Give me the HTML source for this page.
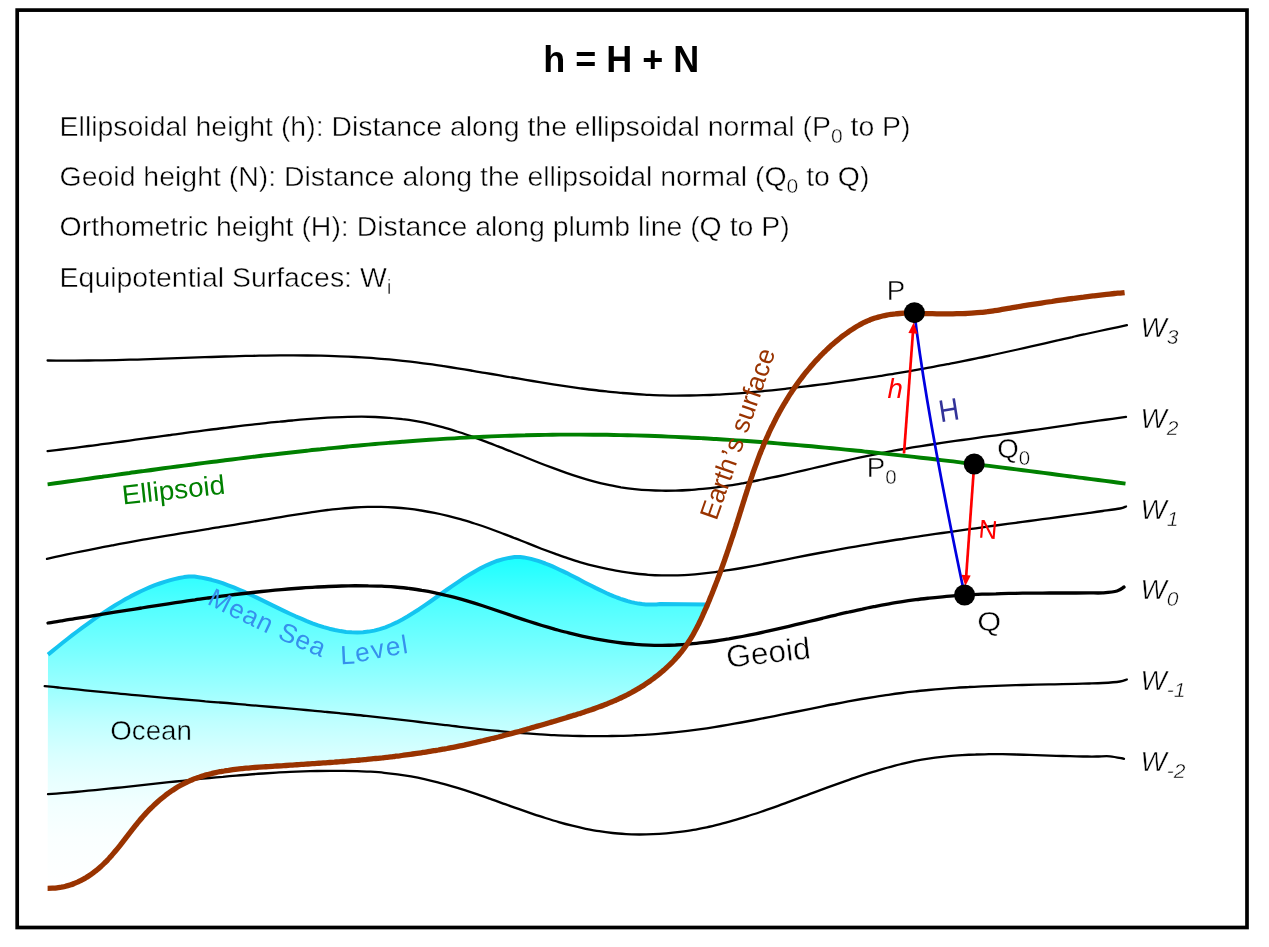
<!DOCTYPE html>
<html><head><meta charset="utf-8"><title>h = H + N</title>
<style>
html,body{margin:0;padding:0;background:#fff;}
svg{display:block;}
text{font-family:"Liberation Sans",Arial,sans-serif;}
.t{stroke:#fff;stroke-width:0.45px;}
</style></head><body>
<svg width="1269" height="947" viewBox="0 0 1269 947">
<defs>
<linearGradient id="wg" x1="0" y1="556" x2="0" y2="888" gradientUnits="userSpaceOnUse">
<stop offset="0" stop-color="#1affff"/><stop offset="0.15" stop-color="#52ffff"/><stop offset="0.283" stop-color="#78ffff"/><stop offset="0.39" stop-color="#99ffff"/><stop offset="0.5" stop-color="#bfffff"/><stop offset="0.6" stop-color="#d9ffff"/><stop offset="0.666" stop-color="#e6ffff"/><stop offset="0.75" stop-color="#f2ffff"/><stop offset="0.85" stop-color="#faffff"/><stop offset="1" stop-color="#ffffff"/>
</linearGradient>
</defs>
<rect x="0" y="0" width="1269" height="947" fill="#fff"/>
<rect x="17.2" y="10.1" width="1229.8" height="917.4" fill="none" stroke="#000" stroke-width="3.7"/>

<path d="M48.0,654.6 L52.9,650.6 L57.7,646.7 L62.6,642.8 L67.4,639.0 L72.3,635.2 L77.2,631.5 L82.0,627.9 L86.9,624.3 L91.7,620.8 L96.6,617.4 L101.4,614.1 L106.3,610.9 L111.2,607.8 L116.0,604.8 L120.9,601.9 L125.7,599.1 L130.6,596.4 L135.5,593.9 L140.3,591.5 L145.2,589.3 L150.0,587.2 L154.9,585.2 L159.7,583.5 L164.6,581.8 L169.5,580.4 L174.3,579.1 L179.2,578.0 L184.0,577.1 L188.9,576.4 L194.5,576.6 L200.1,577.4 L205.7,578.5 L211.4,579.8 L217.0,581.4 L222.6,583.2 L228.2,585.3 L233.8,587.4 L239.4,589.8 L245.1,592.2 L250.7,594.8 L256.3,597.4 L261.9,600.1 L267.5,602.9 L273.1,605.6 L278.7,608.4 L284.4,611.1 L290.0,613.7 L295.6,616.3 L301.2,618.7 L306.8,621.1 L312.4,623.3 L318.1,625.3 L323.7,627.1 L329.3,628.7 L334.9,630.0 L340.5,631.1 L346.1,631.9 L351.7,632.3 L357.4,632.5 L363.0,632.2 L368.6,631.6 L374.2,630.6 L379.8,629.1 L385.4,627.3 L391.0,625.0 L396.7,622.4 L402.3,619.4 L407.9,616.2 L413.5,612.8 L419.1,609.2 L424.7,605.4 L430.4,601.5 L436.0,597.5 L441.6,593.5 L447.2,589.5 L452.8,585.6 L458.4,581.8 L464.0,578.0 L469.7,574.5 L475.3,571.2 L480.9,568.1 L486.5,565.3 L492.1,562.8 L497.7,560.7 L503.4,559.1 L509.0,557.9 L514.6,557.1 L520.2,556.9 L523.8,557.4 L527.4,558.1 L531.0,558.9 L534.5,559.9 L538.1,560.9 L541.7,562.2 L545.3,563.5 L548.9,564.9 L552.5,566.4 L556.0,568.0 L559.6,569.7 L563.2,571.4 L566.8,573.1 L570.4,575.0 L574.0,576.8 L577.6,578.6 L581.1,580.5 L584.7,582.4 L588.3,584.2 L591.9,586.1 L595.5,587.9 L599.1,589.6 L602.6,591.3 L606.2,593.0 L609.8,594.6 L613.4,596.1 L617.0,597.5 L620.6,598.8 L624.2,600.0 L627.7,601.1 L631.3,602.1 L634.9,602.9 L638.5,603.6 L642.1,604.1 L645.7,604.4 L649.2,604.6 L652.8,604.6 L656.4,604.4 L660.0,604.0 L707.3,604.5 L707.3,605.1 L705.5,609.2 L703.7,613.2 L701.9,617.2 L700.0,621.2 L698.1,625.2 L696.1,629.1 L694.0,632.9 L691.8,636.7 L689.5,640.4 L687.1,644.1 L684.6,647.6 L682.0,651.1 L679.2,654.5 L676.3,657.8 L673.4,661.0 L670.3,664.1 L667.1,667.1 L663.9,670.1 L660.6,672.9 L657.2,675.7 L653.7,678.4 L650.1,681.0 L646.5,683.4 L642.8,685.9 L639.1,688.2 L635.3,690.4 L631.5,692.5 L627.6,694.6 L623.7,696.5 L619.7,698.4 L615.8,700.2 L611.7,701.9 L607.7,703.6 L603.6,705.2 L599.5,706.7 L595.4,708.2 L591.3,709.7 L587.2,711.1 L583.0,712.5 L578.8,713.8 L574.6,715.1 L570.4,716.4 L566.2,717.7 L562.0,718.9 L557.8,720.2 L553.5,721.5 L549.3,722.7 L545.1,724.0 L540.8,725.2 L536.6,726.4 L532.4,727.6 L528.1,728.9 L523.9,730.1 L519.6,731.3 L515.4,732.4 L511.1,733.6 L506.9,734.7 L502.6,735.9 L498.4,737.0 L494.1,738.1 L489.8,739.1 L485.6,740.2 L481.3,741.2 L477.0,742.2 L472.7,743.2 L468.5,744.1 L464.2,745.1 L459.9,745.9 L455.6,746.8 L451.3,747.6 L447.0,748.5 L442.7,749.2 L438.4,750.0 L434.1,750.7 L429.8,751.4 L425.5,752.1 L421.2,752.8 L416.9,753.4 L412.6,754.0 L408.2,754.6 L403.9,755.2 L399.6,755.8 L395.2,756.3 L390.9,756.8 L386.6,757.3 L382.2,757.8 L377.9,758.3 L373.5,758.7 L369.2,759.1 L364.8,759.6 L360.5,760.0 L356.1,760.4 L351.7,760.7 L347.4,761.1 L343.0,761.5 L338.6,761.8 L334.3,762.2 L329.9,762.5 L325.5,762.8 L321.1,763.1 L316.7,763.4 L312.3,763.7 L307.9,764.0 L303.5,764.3 L299.1,764.6 L294.7,764.9 L290.3,765.2 L285.9,765.5 L281.4,765.8 L277.0,766.0 L272.6,766.3 L268.2,766.6 L263.7,766.9 L259.3,767.2 L254.9,767.5 L250.4,767.8 L246.0,768.2 L241.6,768.6 L237.3,769.1 L232.9,769.7 L228.6,770.3 L224.2,771.0 L220.0,771.7 L215.7,772.6 L211.5,773.6 L207.3,774.7 L203.2,775.9 L199.1,777.2 L195.1,778.6 L191.1,780.2 L187.1,782.0 L183.3,783.9 L179.4,786.0 L175.7,788.2 L172.0,790.6 L168.4,793.1 L164.9,795.8 L161.4,798.6 L158.0,801.5 L154.7,804.5 L151.4,807.6 L148.3,810.8 L145.2,814.1 L142.3,817.4 L139.4,820.8 L136.6,824.2 L133.8,827.7 L131.1,831.2 L128.4,834.7 L125.7,838.2 L123.0,841.7 L120.3,845.2 L117.5,848.6 L114.7,851.9 L111.9,855.2 L109.0,858.5 L106.0,861.6 L102.9,864.6 L99.7,867.6 L96.4,870.4 L92.9,873.0 L89.4,875.5 L85.8,877.8 L82.0,879.9 L78.1,881.9 L74.1,883.5 L70.0,885.0 L65.8,886.2 L61.4,887.2 L57.0,887.8 L52.4,888.2 L47.6,888.3 Z" fill="url(#wg)" stroke="none"/>
<path d="M48.0,654.6 L52.9,650.6 L57.7,646.7 L62.6,642.8 L67.4,639.0 L72.3,635.2 L77.2,631.5 L82.0,627.9 L86.9,624.3 L91.7,620.8 L96.6,617.4 L101.4,614.1 L106.3,610.9 L111.2,607.8 L116.0,604.8 L120.9,601.9 L125.7,599.1 L130.6,596.4 L135.5,593.9 L140.3,591.5 L145.2,589.3 L150.0,587.2 L154.9,585.2 L159.7,583.5 L164.6,581.8 L169.5,580.4 L174.3,579.1 L179.2,578.0 L184.0,577.1 L188.9,576.4 L194.5,576.6 L200.1,577.4 L205.7,578.5 L211.4,579.8 L217.0,581.4 L222.6,583.2 L228.2,585.3 L233.8,587.4 L239.4,589.8 L245.1,592.2 L250.7,594.8 L256.3,597.4 L261.9,600.1 L267.5,602.9 L273.1,605.6 L278.7,608.4 L284.4,611.1 L290.0,613.7 L295.6,616.3 L301.2,618.7 L306.8,621.1 L312.4,623.3 L318.1,625.3 L323.7,627.1 L329.3,628.7 L334.9,630.0 L340.5,631.1 L346.1,631.9 L351.7,632.3 L357.4,632.5 L363.0,632.2 L368.6,631.6 L374.2,630.6 L379.8,629.1 L385.4,627.3 L391.0,625.0 L396.7,622.4 L402.3,619.4 L407.9,616.2 L413.5,612.8 L419.1,609.2 L424.7,605.4 L430.4,601.5 L436.0,597.5 L441.6,593.5 L447.2,589.5 L452.8,585.6 L458.4,581.8 L464.0,578.0 L469.7,574.5 L475.3,571.2 L480.9,568.1 L486.5,565.3 L492.1,562.8 L497.7,560.7 L503.4,559.1 L509.0,557.9 L514.6,557.1 L520.2,556.9 L523.8,557.4 L527.4,558.1 L531.0,558.9 L534.5,559.9 L538.1,560.9 L541.7,562.2 L545.3,563.5 L548.9,564.9 L552.5,566.4 L556.0,568.0 L559.6,569.7 L563.2,571.4 L566.8,573.1 L570.4,575.0 L574.0,576.8 L577.6,578.6 L581.1,580.5 L584.7,582.4 L588.3,584.2 L591.9,586.1 L595.5,587.9 L599.1,589.6 L602.6,591.3 L606.2,593.0 L609.8,594.6 L613.4,596.1 L617.0,597.5 L620.6,598.8 L624.2,600.0 L627.7,601.1 L631.3,602.1 L634.9,602.9 L638.5,603.6 L642.1,604.1 L645.7,604.4 L649.2,604.6 L652.8,604.6 L656.4,604.4 L660.0,604.0 L707.3,604.5" fill="none" stroke="#14c4f0" stroke-width="4" stroke-linejoin="round"/>
<path d="M47.6,360.5 C49.9,360.5 56.7,360.6 61.3,360.6 C65.8,360.6 70.4,360.6 74.9,360.6 C79.5,360.6 84.0,360.6 88.6,360.5 C93.1,360.5 97.7,360.4 102.2,360.4 C106.8,360.3 111.4,360.2 115.9,360.1 C120.5,360.0 125.0,359.8 129.6,359.7 C134.1,359.6 138.7,359.5 143.2,359.3 C147.8,359.2 152.3,359.0 156.9,358.9 C161.5,358.7 166.0,358.6 170.6,358.4 C175.1,358.2 179.7,358.1 184.2,357.9 C188.8,357.7 193.3,357.6 197.9,357.4 C202.4,357.3 207.0,357.1 211.5,357.0 C216.1,356.8 220.7,356.7 225.2,356.5 C229.8,356.4 234.3,356.3 238.9,356.1 C243.4,356.0 248.0,355.9 252.5,355.8 C257.1,355.7 261.6,355.7 266.2,355.6 C270.7,355.5 275.3,355.5 279.9,355.4 C284.4,355.4 289.0,355.4 293.5,355.4 C298.1,355.4 302.6,355.4 307.2,355.5 C311.7,355.5 316.3,355.6 320.8,355.7 C325.4,355.8 329.9,355.9 334.5,356.1 C339.1,356.2 343.6,356.4 348.2,356.6 C352.7,356.9 357.3,357.1 361.8,357.4 C366.4,357.6 370.9,358.0 375.5,358.3 C380.0,358.6 384.6,359.0 389.2,359.4 C393.7,359.9 398.3,360.3 402.8,360.8 C407.4,361.3 411.9,361.8 416.5,362.4 C421.0,363.0 425.6,363.6 430.1,364.2 C434.7,364.8 439.2,365.5 443.8,366.2 C448.4,366.9 452.9,367.6 457.5,368.3 C462.0,369.0 466.6,369.8 471.1,370.5 C475.7,371.3 480.2,372.1 484.8,372.8 C489.3,373.6 493.9,374.4 498.4,375.2 C503.0,376.0 507.6,376.7 512.1,377.5 C516.7,378.3 521.2,379.1 525.8,379.9 C530.3,380.6 534.9,381.4 539.4,382.1 C544.0,382.9 548.5,383.6 553.1,384.3 C557.6,385.0 562.2,385.7 566.8,386.4 C571.3,387.0 575.9,387.7 580.4,388.3 C585.0,388.9 589.5,389.5 594.1,390.0 C598.6,390.6 603.2,391.1 607.7,391.6 C612.3,392.1 616.9,392.5 621.4,392.9 C626.0,393.3 630.5,393.7 635.1,394.0 C639.6,394.4 644.2,394.6 648.7,394.9 C653.3,395.1 657.8,395.3 662.4,395.4 C666.9,395.5 671.5,395.6 676.1,395.6 C680.6,395.6 685.2,395.6 689.7,395.5 C694.3,395.5 698.8,395.4 703.4,395.2 C707.9,395.1 712.5,394.9 717.0,394.6 C721.6,394.4 726.1,394.1 730.7,393.8 C735.3,393.5 739.8,393.2 744.4,392.8 C748.9,392.4 753.5,392.0 758.0,391.6 C762.6,391.2 767.1,390.7 771.7,390.3 C776.2,389.8 780.8,389.3 785.3,388.8 C789.9,388.3 794.5,387.7 799.0,387.2 C803.6,386.6 808.1,386.1 812.7,385.5 C817.2,384.9 821.8,384.4 826.3,383.8 C830.9,383.2 835.4,382.5 840.0,381.9 C844.6,381.3 849.1,380.6 853.7,380.0 C858.2,379.3 862.8,378.6 867.3,377.9 C871.9,377.3 876.4,376.5 881.0,375.8 C885.5,375.1 890.1,374.4 894.6,373.6 C899.2,372.9 903.8,372.1 908.3,371.3 C912.9,370.5 917.4,369.7 922.0,368.9 C926.5,368.1 931.1,367.3 935.6,366.4 C940.2,365.6 944.7,364.7 949.3,363.8 C953.8,362.9 958.4,362.1 963.0,361.1 C967.5,360.2 972.1,359.3 976.6,358.4 C981.2,357.4 985.7,356.4 990.3,355.5 C994.8,354.5 999.4,353.5 1003.9,352.5 C1008.5,351.5 1013.0,350.5 1017.6,349.5 C1022.2,348.4 1026.7,347.4 1031.3,346.4 C1035.8,345.4 1040.4,344.3 1044.9,343.3 C1049.5,342.2 1054.0,341.2 1058.6,340.2 C1063.1,339.1 1067.7,338.1 1072.3,337.1 C1076.8,336.0 1081.4,335.0 1085.9,334.0 C1090.5,333.0 1095.0,332.0 1099.6,331.0 C1104.1,330.0 1108.7,329.0 1113.2,328.1 C1117.8,327.1 1124.6,325.7 1126.9,325.2" fill="none" stroke="#000" stroke-width="2.3" stroke-linecap="round" stroke-linejoin="round"/>
<path d="M47.6,451.1 C49.9,450.8 56.7,450.0 61.3,449.5 C65.8,448.9 70.4,448.4 74.9,447.8 C79.5,447.2 84.0,446.6 88.6,446.0 C93.1,445.5 97.7,444.8 102.2,444.2 C106.8,443.6 111.3,443.0 115.9,442.4 C120.4,441.8 125.0,441.2 129.5,440.6 C134.1,439.9 138.6,439.3 143.2,438.7 C147.7,438.1 152.3,437.4 156.8,436.8 C161.4,436.2 165.9,435.6 170.5,435.0 C175.0,434.3 179.6,433.7 184.1,433.1 C188.7,432.5 193.2,431.9 197.8,431.3 C202.3,430.7 206.9,430.1 211.4,429.5 C216.0,429.0 220.5,428.4 225.1,427.8 C229.6,427.3 234.2,426.7 238.7,426.2 C243.3,425.6 247.8,425.1 252.4,424.6 C256.9,424.1 261.5,423.6 266.0,423.1 C270.6,422.6 275.1,422.1 279.7,421.7 C284.2,421.2 288.8,420.8 293.3,420.4 C297.9,419.9 302.4,419.5 307.0,419.2 C311.5,418.8 316.1,418.5 320.6,418.1 C325.2,417.8 329.7,417.6 334.3,417.3 C338.8,417.1 343.4,416.9 347.9,416.8 C352.5,416.7 357.0,416.7 361.6,416.7 C366.1,416.7 370.7,416.8 375.2,417.0 C379.8,417.2 384.3,417.4 388.9,417.8 C393.4,418.2 398.0,418.6 402.5,419.2 C407.1,419.7 411.6,420.4 416.2,421.2 C420.7,422.0 425.3,422.9 429.8,423.9 C434.4,425.0 438.9,426.1 443.5,427.4 C448.0,428.7 452.6,430.0 457.1,431.5 C461.7,432.9 466.2,434.5 470.8,436.1 C475.3,437.7 479.9,439.4 484.4,441.1 C489.0,442.8 493.5,444.6 498.1,446.4 C502.6,448.1 507.2,450.0 511.7,451.8 C516.3,453.6 520.8,455.5 525.4,457.3 C529.9,459.1 534.5,460.9 539.0,462.7 C543.6,464.5 548.1,466.2 552.7,467.9 C557.2,469.6 561.8,471.3 566.3,472.8 C570.9,474.4 575.4,475.9 580.0,477.4 C584.5,478.8 589.1,480.1 593.6,481.3 C598.2,482.6 602.7,483.7 607.3,484.7 C611.8,485.7 616.4,486.5 620.9,487.3 C625.5,488.0 630.0,488.6 634.6,489.1 C639.1,489.6 643.7,490.0 648.2,490.2 C652.8,490.5 657.3,490.7 661.9,490.7 C666.4,490.8 671.0,490.7 675.5,490.6 C680.1,490.5 684.6,490.3 689.2,490.0 C693.7,489.7 698.3,489.3 702.8,488.9 C707.4,488.4 711.9,487.9 716.5,487.3 C721.0,486.7 725.6,486.1 730.1,485.4 C734.7,484.7 739.2,483.9 743.8,483.1 C748.3,482.3 752.9,481.4 757.4,480.5 C762.0,479.6 766.5,478.7 771.1,477.7 C775.6,476.8 780.2,475.8 784.7,474.8 C789.3,473.8 793.8,472.7 798.4,471.7 C802.9,470.6 807.5,469.6 812.0,468.5 C816.6,467.4 821.1,466.4 825.7,465.3 C830.2,464.2 834.8,463.2 839.3,462.1 C843.9,461.1 848.4,460.0 853.0,459.0 C857.5,458.0 862.1,457.0 866.6,456.1 C871.2,455.1 875.7,454.2 880.3,453.3 C884.8,452.4 889.4,451.5 893.9,450.7 C898.5,449.9 903.0,449.1 907.6,448.3 C912.1,447.5 916.7,446.8 921.2,446.1 C925.8,445.3 930.3,444.6 934.9,444.0 C939.4,443.3 944.0,442.6 948.5,441.9 C953.1,441.3 957.6,440.6 962.2,440.0 C966.7,439.4 971.3,438.7 975.8,438.1 C980.4,437.5 984.9,436.9 989.5,436.2 C994.0,435.6 998.6,435.0 1003.1,434.4 C1007.7,433.7 1012.2,433.1 1016.8,432.5 C1021.3,431.8 1025.9,431.2 1030.4,430.5 C1035.0,429.9 1039.5,429.2 1044.1,428.6 C1048.6,427.9 1053.2,427.3 1057.7,426.6 C1062.3,426.0 1066.8,425.3 1071.4,424.7 C1075.9,424.0 1080.5,423.3 1085.0,422.7 C1089.6,422.0 1094.1,421.4 1098.7,420.7 C1103.2,420.1 1107.8,419.4 1112.3,418.8 C1116.9,418.1 1123.7,417.1 1126.0,416.8" fill="none" stroke="#000" stroke-width="2.3" stroke-linecap="round" stroke-linejoin="round"/>
<path d="M47.0,558.9 C49.2,558.4 55.9,556.9 60.4,555.9 C64.8,554.9 69.3,554.0 73.7,553.0 C78.2,552.1 82.6,551.2 87.1,550.3 C91.5,549.4 96.0,548.5 100.5,547.6 C104.9,546.7 109.4,545.9 113.8,545.1 C118.3,544.2 122.7,543.4 127.2,542.6 C131.6,541.8 136.1,541.0 140.5,540.2 C145.0,539.4 149.5,538.7 153.9,537.9 C158.4,537.1 162.8,536.4 167.3,535.7 C171.7,534.9 176.2,534.2 180.6,533.4 C185.1,532.7 189.5,532.0 194.0,531.3 C198.5,530.5 202.9,529.8 207.4,529.1 C211.8,528.4 216.3,527.7 220.7,526.9 C225.2,526.2 229.6,525.5 234.1,524.8 C238.5,524.1 243.0,523.3 247.4,522.6 C251.9,521.9 256.4,521.1 260.8,520.4 C265.3,519.7 269.7,518.9 274.2,518.2 C278.6,517.4 283.1,516.7 287.5,515.9 C292.0,515.2 296.4,514.5 300.9,513.8 C305.4,513.1 309.8,512.4 314.3,511.8 C318.7,511.2 323.2,510.6 327.6,510.0 C332.1,509.5 336.5,509.0 341.0,508.6 C345.4,508.2 349.9,507.8 354.4,507.5 C358.8,507.2 363.3,507.0 367.7,506.9 C372.2,506.8 376.6,506.8 381.1,506.9 C385.5,507.0 390.0,507.2 394.4,507.5 C398.9,507.8 403.4,508.2 407.8,508.7 C412.3,509.2 416.7,509.8 421.2,510.5 C425.6,511.2 430.1,512.0 434.5,512.9 C439.0,513.8 443.4,514.8 447.9,515.9 C452.4,517.0 456.8,518.1 461.3,519.4 C465.7,520.7 470.2,522.0 474.6,523.5 C479.1,524.9 483.5,526.4 488.0,528.0 C492.4,529.6 496.9,531.3 501.4,533.0 C505.8,534.7 510.3,536.4 514.7,538.2 C519.2,539.9 523.6,541.7 528.1,543.4 C532.5,545.2 537.0,547.0 541.4,548.7 C545.9,550.4 550.4,552.1 554.8,553.7 C559.3,555.3 563.7,556.9 568.2,558.4 C572.6,559.8 577.1,561.3 581.5,562.6 C586.0,563.9 590.4,565.1 594.9,566.2 C599.3,567.3 603.8,568.3 608.3,569.2 C612.7,570.1 617.2,571.0 621.6,571.7 C626.1,572.4 630.5,573.0 635.0,573.5 C639.4,574.0 643.9,574.5 648.3,574.8 C652.8,575.1 657.3,575.3 661.7,575.4 C666.2,575.5 670.6,575.5 675.1,575.3 C679.5,575.2 684.0,575.0 688.4,574.8 C692.9,574.5 697.3,574.1 701.8,573.6 C706.3,573.2 710.7,572.7 715.2,572.1 C719.6,571.5 724.1,570.9 728.5,570.2 C733.0,569.5 737.4,568.8 741.9,568.0 C746.3,567.2 750.8,566.4 755.3,565.6 C759.7,564.7 764.2,563.9 768.6,563.0 C773.1,562.1 777.5,561.2 782.0,560.3 C786.4,559.4 790.9,558.5 795.3,557.7 C799.8,556.8 804.3,555.9 808.7,555.0 C813.2,554.2 817.6,553.3 822.1,552.5 C826.5,551.7 831.0,550.9 835.4,550.1 C839.9,549.3 844.3,548.5 848.8,547.7 C853.3,546.9 857.7,546.2 862.2,545.4 C866.6,544.7 871.1,543.9 875.5,543.2 C880.0,542.5 884.4,541.8 888.9,541.0 C893.3,540.3 897.8,539.6 902.3,539.0 C906.7,538.3 911.2,537.6 915.6,536.9 C920.1,536.3 924.5,535.6 929.0,534.9 C933.4,534.3 937.9,533.6 942.3,533.0 C946.8,532.4 951.2,531.7 955.7,531.1 C960.2,530.5 964.6,529.8 969.1,529.2 C973.5,528.6 978.0,528.0 982.4,527.4 C986.9,526.8 991.3,526.1 995.8,525.5 C1000.2,524.9 1004.7,524.3 1009.2,523.7 C1013.6,523.1 1018.1,522.5 1022.5,521.9 C1027.0,521.3 1031.4,520.7 1035.9,520.1 C1040.3,519.5 1044.8,518.9 1049.2,518.3 C1053.7,517.7 1058.2,517.1 1062.6,516.5 C1067.1,515.9 1071.5,515.3 1076.0,514.7 C1080.4,514.1 1084.9,513.5 1089.3,512.9 C1093.8,512.3 1097.6,511.8 1102.7,511.0 C1107.8,510.3 1116.1,509.3 1120.0,508.5 C1123.9,507.7 1125.0,506.8 1126.0,506.5" fill="none" stroke="#000" stroke-width="2.3" stroke-linecap="round" stroke-linejoin="round"/>
<path d="M44.7,686.1 C46.9,686.3 53.6,687.0 58.1,687.5 C62.6,688.0 67.0,688.5 71.5,688.9 C75.9,689.4 80.4,689.9 84.9,690.3 C89.3,690.8 93.8,691.2 98.3,691.7 C102.7,692.1 107.2,692.5 111.7,692.9 C116.1,693.4 120.6,693.8 125.1,694.2 C129.5,694.6 134.0,695.0 138.4,695.4 C142.9,695.8 147.4,696.2 151.8,696.6 C156.3,697.0 160.8,697.4 165.2,697.8 C169.7,698.2 174.2,698.6 178.6,699.0 C183.1,699.4 187.6,699.7 192.0,700.1 C196.5,700.5 200.9,700.9 205.4,701.3 C209.9,701.6 214.3,702.0 218.8,702.4 C223.3,702.8 227.7,703.2 232.2,703.5 C236.7,703.9 241.1,704.3 245.6,704.7 C250.1,705.1 254.5,705.5 259.0,705.8 C263.4,706.2 267.9,706.6 272.4,707.0 C276.8,707.4 281.3,707.8 285.8,708.2 C290.2,708.6 294.7,709.0 299.2,709.4 C303.6,709.8 308.1,710.2 312.5,710.6 C317.0,711.1 321.5,711.5 325.9,711.9 C330.4,712.3 334.9,712.8 339.3,713.2 C343.8,713.6 348.3,714.1 352.7,714.5 C357.2,715.0 361.7,715.5 366.1,715.9 C370.6,716.4 375.0,716.9 379.5,717.4 C384.0,717.9 388.4,718.4 392.9,718.9 C397.4,719.4 401.8,719.9 406.3,720.4 C410.8,720.9 415.2,721.5 419.7,722.0 C424.2,722.5 428.6,723.1 433.1,723.6 C437.5,724.1 442.0,724.7 446.5,725.2 C450.9,725.8 455.4,726.3 459.9,726.8 C464.3,727.3 468.8,727.8 473.3,728.3 C477.7,728.8 482.2,729.3 486.6,729.8 C491.1,730.3 495.6,730.7 500.0,731.1 C504.5,731.6 509.0,732.0 513.4,732.4 C517.9,732.8 522.4,733.1 526.8,733.4 C531.3,733.8 535.8,734.1 540.2,734.3 C544.7,734.6 549.1,734.9 553.6,735.1 C558.1,735.3 562.5,735.5 567.0,735.6 C571.5,735.8 575.9,735.9 580.4,736.0 C584.9,736.1 589.3,736.1 593.8,736.2 C598.3,736.2 602.7,736.2 607.2,736.1 C611.6,736.0 616.1,736.0 620.6,735.8 C625.0,735.7 629.5,735.5 634.0,735.3 C638.4,735.1 642.9,734.9 647.4,734.6 C651.8,734.3 656.3,734.0 660.8,733.6 C665.2,733.2 669.7,732.8 674.1,732.4 C678.6,731.9 683.1,731.4 687.5,730.9 C692.0,730.3 696.5,729.7 700.9,729.1 C705.4,728.5 709.9,727.8 714.3,727.1 C718.8,726.4 723.2,725.6 727.7,724.9 C732.2,724.1 736.6,723.3 741.1,722.5 C745.6,721.7 750.0,720.8 754.5,720.0 C759.0,719.1 763.4,718.3 767.9,717.4 C772.4,716.5 776.8,715.6 781.3,714.7 C785.7,713.8 790.2,712.9 794.7,712.0 C799.1,711.1 803.6,710.2 808.1,709.3 C812.5,708.4 817.0,707.5 821.5,706.6 C825.9,705.7 830.4,704.8 834.9,704.0 C839.3,703.1 843.8,702.2 848.2,701.4 C852.7,700.6 857.2,699.8 861.6,699.0 C866.1,698.3 870.6,697.5 875.0,696.8 C879.5,696.1 884.0,695.4 888.4,694.8 C892.9,694.1 897.3,693.5 901.8,693.0 C906.3,692.4 910.7,691.9 915.2,691.4 C919.7,690.9 924.1,690.4 928.6,690.0 C933.1,689.6 937.5,689.2 942.0,688.8 C946.5,688.4 950.9,688.1 955.4,687.8 C959.8,687.5 964.3,687.2 968.8,687.0 C973.2,686.7 977.7,686.5 982.2,686.3 C986.6,686.1 991.1,685.9 995.6,685.8 C1000.0,685.6 1004.5,685.5 1009.0,685.3 C1013.4,685.2 1017.9,685.1 1022.3,685.0 C1026.8,684.9 1031.3,684.8 1035.7,684.7 C1040.2,684.6 1044.7,684.5 1049.1,684.4 C1053.6,684.4 1058.1,684.3 1062.5,684.2 C1067.0,684.1 1071.5,684.0 1075.9,683.9 C1080.4,683.8 1084.8,683.6 1089.3,683.5 C1093.8,683.4 1097.6,683.4 1102.7,683.0 C1107.8,682.7 1116.0,682.1 1120.0,681.5 C1124.0,680.9 1125.7,679.8 1126.8,679.5" fill="none" stroke="#000" stroke-width="2.3" stroke-linecap="round" stroke-linejoin="round"/>
<path d="M48.0,794.2 C50.2,794.0 57.0,793.5 61.4,793.1 C65.9,792.7 70.4,792.4 74.9,792.0 C79.4,791.6 83.8,791.1 88.3,790.7 C92.8,790.3 97.3,789.8 101.8,789.4 C106.3,788.9 110.7,788.5 115.2,788.0 C119.7,787.5 124.2,787.1 128.7,786.6 C133.1,786.1 137.6,785.6 142.1,785.1 C146.6,784.6 151.1,784.2 155.5,783.7 C160.0,783.2 164.5,782.7 169.0,782.2 C173.5,781.7 177.9,781.3 182.4,780.8 C186.9,780.3 191.4,779.8 195.9,779.4 C200.4,778.9 204.8,778.5 209.3,778.0 C213.8,777.6 218.3,777.2 222.8,776.8 C227.2,776.3 231.7,775.9 236.2,775.6 C240.7,775.2 245.2,774.8 249.6,774.5 C254.1,774.1 258.6,773.8 263.1,773.5 C267.6,773.2 272.1,772.9 276.5,772.6 C281.0,772.3 285.5,772.1 290.0,771.9 C294.5,771.7 298.9,771.5 303.4,771.3 C307.9,771.2 312.4,771.1 316.9,771.0 C321.3,770.9 325.8,770.8 330.3,770.8 C334.8,770.8 339.3,770.8 343.7,770.8 C348.2,770.9 352.7,771.0 357.2,771.1 C361.7,771.3 366.2,771.4 370.6,771.7 C375.1,772.0 379.6,772.3 384.1,772.8 C388.6,773.2 393.0,773.7 397.5,774.3 C402.0,774.9 406.5,775.6 411.0,776.4 C415.4,777.2 419.9,778.1 424.4,779.1 C428.9,780.1 433.4,781.2 437.8,782.3 C442.3,783.5 446.8,784.8 451.3,786.1 C455.8,787.4 460.3,788.8 464.7,790.2 C469.2,791.7 473.7,793.2 478.2,794.7 C482.7,796.2 487.1,797.8 491.6,799.4 C496.1,800.9 500.6,802.6 505.1,804.2 C509.5,805.7 514.0,807.4 518.5,808.9 C523.0,810.5 527.5,812.1 531.9,813.6 C536.4,815.1 540.9,816.6 545.4,818.0 C549.9,819.4 554.4,820.8 558.8,822.1 C563.3,823.4 567.8,824.6 572.3,825.7 C576.8,826.9 581.2,827.9 585.7,828.8 C590.2,829.7 594.7,830.6 599.2,831.2 C603.6,831.9 608.1,832.5 612.6,833.0 C617.1,833.5 621.6,833.8 626.1,834.1 C630.5,834.3 635.0,834.4 639.5,834.5 C644.0,834.5 648.5,834.4 652.9,834.2 C657.4,834.1 661.9,833.8 666.4,833.4 C670.9,833.0 675.3,832.5 679.8,831.9 C684.3,831.3 688.8,830.7 693.3,829.9 C697.7,829.1 702.2,828.2 706.7,827.3 C711.2,826.3 715.7,825.2 720.2,824.1 C724.6,823.0 729.1,821.7 733.6,820.4 C738.1,819.2 742.6,817.8 747.0,816.4 C751.5,815.0 756.0,813.5 760.5,812.0 C765.0,810.4 769.4,808.9 773.9,807.3 C778.4,805.7 782.9,804.1 787.4,802.4 C791.8,800.8 796.3,799.1 800.8,797.4 C805.3,795.8 809.8,794.1 814.3,792.4 C818.7,790.8 823.2,789.1 827.7,787.4 C832.2,785.8 836.7,784.2 841.1,782.6 C845.6,781.0 850.1,779.4 854.6,777.9 C859.1,776.3 863.5,774.8 868.0,773.4 C872.5,772.0 877.0,770.6 881.5,769.3 C885.9,768.0 890.4,766.8 894.9,765.6 C899.4,764.4 903.9,763.4 908.4,762.4 C912.8,761.4 917.3,760.5 921.8,759.7 C926.3,758.9 930.8,758.2 935.2,757.6 C939.7,757.0 944.2,756.5 948.7,756.1 C953.2,755.7 957.6,755.4 962.1,755.1 C966.6,754.8 971.1,754.6 975.6,754.5 C980.1,754.3 984.5,754.3 989.0,754.2 C993.5,754.2 998.0,754.2 1002.5,754.2 C1006.9,754.3 1011.4,754.4 1015.9,754.5 C1020.4,754.6 1024.9,754.7 1029.3,754.9 C1033.8,755.0 1038.3,755.2 1042.8,755.3 C1047.3,755.5 1051.7,755.6 1056.2,755.8 C1060.7,755.9 1065.2,756.1 1069.7,756.2 C1074.2,756.3 1078.6,756.4 1083.1,756.5 C1087.6,756.5 1092.1,756.6 1096.6,756.5 C1101.0,756.5 1105.4,755.9 1110.0,756.3 C1114.6,756.7 1121.7,758.4 1124.0,758.8" fill="none" stroke="#000" stroke-width="2.3" stroke-linecap="round" stroke-linejoin="round"/>
<path d="M48.0,623.0 C50.2,622.6 56.9,621.6 61.4,620.9 C65.8,620.2 70.3,619.5 74.7,618.7 C79.2,618.0 83.6,617.3 88.1,616.6 C92.5,615.9 97.0,615.1 101.4,614.4 C105.9,613.7 110.3,613.0 114.8,612.2 C119.2,611.5 123.7,610.8 128.1,610.1 C132.6,609.4 137.0,608.7 141.5,608.0 C145.9,607.2 150.4,606.5 154.8,605.9 C159.3,605.2 163.7,604.5 168.2,603.8 C172.6,603.1 177.1,602.4 181.5,601.8 C186.0,601.1 190.4,600.5 194.9,599.9 C199.3,599.2 203.8,598.6 208.2,598.0 C212.7,597.4 217.1,596.8 221.6,596.2 C226.0,595.6 230.5,595.1 234.9,594.5 C239.4,594.0 243.8,593.5 248.3,593.0 C252.7,592.5 257.2,592.0 261.6,591.5 C266.1,591.1 270.5,590.6 275.0,590.2 C279.4,589.8 283.9,589.4 288.3,589.0 C292.8,588.7 297.2,588.3 301.7,588.0 C306.1,587.7 310.6,587.4 315.0,587.2 C319.5,586.9 323.9,586.7 328.4,586.5 C332.8,586.3 337.3,586.1 341.7,586.0 C346.2,585.9 350.6,585.8 355.1,585.7 C359.5,585.7 364.0,585.7 368.4,585.8 C372.9,585.8 377.3,586.0 381.8,586.2 C386.2,586.4 390.7,586.7 395.1,587.0 C399.6,587.4 404.0,587.9 408.5,588.4 C412.9,589.0 417.4,589.6 421.8,590.4 C426.3,591.1 430.7,591.9 435.2,592.8 C439.6,593.8 444.1,594.8 448.5,595.9 C453.0,596.9 457.4,598.1 461.9,599.4 C466.3,600.6 470.8,602.0 475.2,603.4 C479.7,604.8 484.1,606.3 488.6,607.7 C493.0,609.2 497.5,610.8 501.9,612.3 C506.4,613.8 510.8,615.3 515.3,616.9 C519.7,618.4 524.2,619.9 528.6,621.3 C533.1,622.7 537.5,624.1 542.0,625.5 C546.4,626.8 550.9,628.1 555.3,629.4 C559.8,630.6 564.2,631.8 568.7,632.9 C573.1,634.0 577.6,635.1 582.0,636.1 C586.5,637.1 590.9,638.0 595.4,638.9 C599.8,639.7 604.3,640.5 608.7,641.2 C613.2,641.9 617.6,642.5 622.1,643.0 C626.5,643.5 631.0,644.0 635.4,644.3 C639.9,644.7 644.3,645.0 648.8,645.1 C653.2,645.3 657.7,645.3 662.1,645.3 C666.6,645.3 671.0,645.2 675.5,645.0 C679.9,644.7 684.4,644.4 688.8,644.1 C693.3,643.7 697.7,643.3 702.2,642.7 C706.6,642.2 711.1,641.6 715.5,641.0 C720.0,640.4 724.4,639.6 728.9,638.9 C733.3,638.1 737.8,637.3 742.2,636.5 C746.7,635.6 751.1,634.7 755.6,633.8 C760.0,632.9 764.5,631.9 768.9,630.9 C773.4,629.9 777.8,628.9 782.3,627.9 C786.7,626.8 791.2,625.8 795.6,624.7 C800.1,623.6 804.5,622.6 809.0,621.5 C813.4,620.4 817.9,619.3 822.3,618.3 C826.8,617.2 831.2,616.1 835.7,615.1 C840.1,614.0 844.6,613.0 849.0,612.0 C853.5,611.0 857.9,610.0 862.4,609.1 C866.8,608.1 871.3,607.2 875.7,606.3 C880.2,605.4 884.6,604.6 889.1,603.8 C893.5,603.0 898.0,602.3 902.4,601.6 C906.9,600.9 911.3,600.3 915.8,599.7 C920.2,599.1 924.7,598.6 929.1,598.1 C933.6,597.6 938.0,597.2 942.5,596.8 C946.9,596.4 951.4,596.0 955.8,595.7 C960.3,595.4 964.7,595.1 969.2,594.9 C973.6,594.6 978.1,594.4 982.5,594.2 C987.0,594.0 991.4,593.9 995.9,593.8 C1000.3,593.6 1004.8,593.5 1009.2,593.4 C1013.7,593.3 1018.1,593.3 1022.6,593.2 C1027.0,593.2 1031.5,593.1 1035.9,593.1 C1040.4,593.1 1044.8,593.0 1049.3,593.0 C1053.7,593.0 1058.2,593.0 1062.6,593.0 C1067.1,593.0 1071.5,593.0 1076.0,593.0 C1080.4,593.0 1084.9,593.0 1089.3,592.9 C1093.8,592.9 1098.1,593.2 1102.7,592.9 C1107.3,592.5 1113.5,592.0 1117.0,591.0 C1120.5,590.0 1122.8,587.7 1124.0,587.0" fill="none" stroke="#000" stroke-width="3.3" stroke-linecap="round" stroke-linejoin="round"/>
<path d="M47.6,484.4 C49.9,484.1 56.7,483.2 61.2,482.5 C65.8,481.9 70.3,481.2 74.9,480.6 C79.4,480.0 84.0,479.3 88.5,478.7 C93.1,478.0 97.6,477.4 102.2,476.8 C106.7,476.1 111.3,475.5 115.8,474.9 C120.4,474.2 124.9,473.6 129.5,473.0 C134.0,472.3 138.6,471.7 143.1,471.1 C147.7,470.5 152.2,469.9 156.8,469.2 C161.3,468.6 165.9,468.0 170.4,467.4 C174.9,466.8 179.5,466.2 184.0,465.6 C188.6,465.0 193.1,464.4 197.7,463.8 C202.2,463.2 206.8,462.6 211.3,462.0 C215.9,461.5 220.4,460.9 225.0,460.3 C229.5,459.7 234.1,459.2 238.6,458.6 C243.2,458.0 247.7,457.5 252.3,456.9 C256.8,456.4 261.4,455.9 265.9,455.3 C270.5,454.8 275.0,454.3 279.6,453.7 C284.1,453.2 288.6,452.7 293.2,452.2 C297.7,451.7 302.3,451.2 306.8,450.7 C311.4,450.2 315.9,449.7 320.5,449.3 C325.0,448.8 329.6,448.3 334.1,447.9 C338.7,447.4 343.2,447.0 347.8,446.5 C352.3,446.1 356.9,445.7 361.4,445.2 C366.0,444.8 370.5,444.4 375.1,444.0 C379.6,443.6 384.2,443.2 388.7,442.9 C393.3,442.5 397.8,442.1 402.4,441.8 C406.9,441.4 411.4,441.1 416.0,440.7 C420.5,440.4 425.1,440.1 429.6,439.8 C434.2,439.5 438.7,439.2 443.3,438.9 C447.8,438.6 452.4,438.3 456.9,438.1 C461.5,437.8 466.0,437.6 470.6,437.4 C475.1,437.1 479.7,436.9 484.2,436.7 C488.8,436.5 493.3,436.3 497.9,436.1 C502.4,436.0 507.0,435.8 511.5,435.7 C516.1,435.5 520.6,435.4 525.2,435.3 C529.7,435.1 534.2,435.0 538.8,435.0 C543.3,434.9 547.9,434.8 552.4,434.7 C557.0,434.7 561.5,434.6 566.1,434.6 C570.6,434.6 575.2,434.6 579.7,434.6 C584.3,434.6 588.8,434.6 593.4,434.7 C597.9,434.7 602.5,434.8 607.0,434.8 C611.6,434.9 616.1,435.0 620.7,435.1 C625.2,435.2 629.8,435.3 634.3,435.4 C638.9,435.5 643.4,435.7 647.9,435.8 C652.5,436.0 657.0,436.1 661.6,436.3 C666.1,436.5 670.7,436.7 675.2,436.9 C679.8,437.1 684.3,437.3 688.9,437.5 C693.4,437.8 698.0,438.0 702.5,438.2 C707.1,438.5 711.6,438.8 716.2,439.0 C720.7,439.3 725.3,439.6 729.8,439.9 C734.4,440.2 738.9,440.5 743.5,440.8 C748.0,441.1 752.6,441.5 757.1,441.8 C761.7,442.1 766.2,442.5 770.7,442.8 C775.3,443.2 779.8,443.6 784.4,444.0 C788.9,444.3 793.5,444.7 798.0,445.1 C802.6,445.5 807.1,445.9 811.7,446.3 C816.2,446.7 820.8,447.2 825.3,447.6 C829.9,448.0 834.4,448.5 839.0,448.9 C843.5,449.4 848.1,449.8 852.6,450.3 C857.2,450.7 861.7,451.2 866.3,451.7 C870.8,452.1 875.4,452.6 879.9,453.1 C884.5,453.6 889.0,454.1 893.5,454.6 C898.1,455.1 902.6,455.6 907.2,456.1 C911.7,456.6 916.3,457.2 920.8,457.7 C925.4,458.2 929.9,458.7 934.5,459.3 C939.0,459.8 943.6,460.4 948.1,460.9 C952.7,461.4 957.2,462.0 961.8,462.6 C966.3,463.1 970.9,463.7 975.4,464.2 C980.0,464.8 984.5,465.4 989.1,465.9 C993.6,466.5 998.2,467.1 1002.7,467.6 C1007.2,468.2 1011.8,468.8 1016.3,469.4 C1020.9,470.0 1025.4,470.5 1030.0,471.1 C1034.5,471.7 1039.1,472.3 1043.6,472.9 C1048.2,473.5 1052.7,474.1 1057.3,474.7 C1061.8,475.3 1066.4,475.9 1070.9,476.5 C1075.5,477.1 1080.0,477.7 1084.6,478.2 C1089.1,478.8 1093.7,479.4 1098.2,480.0 C1102.8,480.6 1107.3,481.2 1111.9,481.8 C1116.4,482.4 1123.2,483.3 1125.5,483.6" fill="none" stroke="#008000" stroke-width="3.9" />
<path d="M47.6,888.3 C48.4,888.3 50.8,888.3 52.4,888.2 C53.9,888.1 55.5,888.0 57.0,887.8 C58.5,887.7 60.0,887.4 61.4,887.2 C62.9,886.9 64.4,886.6 65.8,886.2 C67.2,885.9 68.6,885.5 70.0,885.0 C71.4,884.6 72.8,884.1 74.1,883.5 C75.5,883.0 76.8,882.5 78.1,881.9 C79.4,881.2 80.7,880.6 82.0,879.9 C83.3,879.3 84.5,878.5 85.8,877.8 C87.0,877.1 88.2,876.3 89.4,875.5 C90.6,874.7 91.8,873.9 92.9,873.0 C94.1,872.1 95.2,871.3 96.4,870.4 C97.5,869.4 98.6,868.5 99.7,867.6 C100.8,866.6 101.8,865.6 102.9,864.6 C103.9,863.6 105.0,862.6 106.0,861.6 C107.0,860.6 108.0,859.5 109.0,858.5 C110.0,857.4 110.9,856.3 111.9,855.2 C112.9,854.2 113.8,853.0 114.7,851.9 C115.7,850.8 116.6,849.7 117.5,848.6 C118.5,847.4 119.4,846.3 120.3,845.2 C121.2,844.0 122.1,842.9 123.0,841.7 C123.9,840.5 124.8,839.4 125.7,838.2 C126.6,837.0 127.5,835.9 128.4,834.7 C129.3,833.5 130.2,832.4 131.1,831.2 C132.0,830.0 132.9,828.9 133.8,827.7 C134.7,826.6 135.6,825.4 136.6,824.2 C137.5,823.1 138.4,821.9 139.4,820.8 C140.3,819.7 141.3,818.5 142.3,817.4 C143.2,816.3 144.2,815.2 145.2,814.1 C146.2,813.0 147.3,811.9 148.3,810.8 C149.3,809.7 150.4,808.7 151.4,807.6 C152.5,806.6 153.6,805.5 154.7,804.5 C155.8,803.5 156.9,802.5 158.0,801.5 C159.1,800.5 160.2,799.5 161.4,798.6 C162.5,797.6 163.7,796.7 164.9,795.8 C166.0,794.9 167.2,794.0 168.4,793.1 C169.6,792.3 170.8,791.4 172.0,790.6 C173.2,789.8 174.5,789.0 175.7,788.2 C176.9,787.4 178.2,786.7 179.4,786.0 C180.7,785.3 182.0,784.6 183.3,783.9 C184.5,783.2 185.8,782.6 187.1,782.0 C188.4,781.4 189.8,780.8 191.1,780.2 C192.4,779.7 193.7,779.1 195.1,778.6 C196.4,778.1 197.7,777.6 199.1,777.2 C200.5,776.7 201.8,776.3 203.2,775.9 C204.6,775.4 205.9,775.0 207.3,774.7 C208.7,774.3 210.1,773.9 211.5,773.6 C212.9,773.2 214.3,772.9 215.7,772.6 C217.1,772.3 218.5,772.0 220.0,771.7 C221.4,771.5 222.8,771.2 224.2,771.0 C225.7,770.7 227.1,770.5 228.6,770.3 C230.0,770.1 231.4,769.9 232.9,769.7 C234.3,769.5 235.8,769.3 237.3,769.1 C238.7,769.0 240.2,768.8 241.6,768.6 C243.1,768.5 244.6,768.3 246.0,768.2 C247.5,768.1 249.0,768.0 250.4,767.8 C251.9,767.7 253.4,767.6 254.9,767.5 C256.3,767.4 257.8,767.3 259.3,767.2 C260.8,767.1 262.3,767.0 263.7,766.9 C265.2,766.8 266.7,766.7 268.2,766.6 C269.6,766.5 271.1,766.4 272.6,766.3 C274.1,766.2 275.5,766.1 277.0,766.0 C278.5,765.9 280.0,765.8 281.4,765.8 C282.9,765.7 284.4,765.6 285.9,765.5 C287.3,765.4 288.8,765.3 290.3,765.2 C291.8,765.1 293.2,765.0 294.7,764.9 C296.2,764.8 297.6,764.7 299.1,764.6 C300.6,764.5 302.0,764.4 303.5,764.3 C305.0,764.2 306.4,764.1 307.9,764.0 C309.4,763.9 310.8,763.8 312.3,763.7 C313.8,763.6 315.2,763.5 316.7,763.4 C318.2,763.3 319.6,763.2 321.1,763.1 C322.6,763.0 324.0,762.9 325.5,762.8 C327.0,762.7 328.4,762.6 329.9,762.5 C331.3,762.4 332.8,762.3 334.3,762.2 C335.7,762.1 337.2,761.9 338.6,761.8 C340.1,761.7 341.5,761.6 343.0,761.5 C344.5,761.4 345.9,761.2 347.4,761.1 C348.8,761.0 350.3,760.9 351.7,760.7 C353.2,760.6 354.7,760.5 356.1,760.4 C357.6,760.2 359.0,760.1 360.5,760.0 C361.9,759.8 363.4,759.7 364.8,759.6 C366.3,759.4 367.7,759.3 369.2,759.1 C370.6,759.0 372.1,758.9 373.5,758.7 C375.0,758.6 376.4,758.4 377.9,758.3 C379.3,758.1 380.8,757.9 382.2,757.8 C383.7,757.6 385.1,757.5 386.6,757.3 C388.0,757.1 389.5,757.0 390.9,756.8 C392.4,756.6 393.8,756.5 395.2,756.3 C396.7,756.1 398.1,755.9 399.6,755.8 C401.0,755.6 402.5,755.4 403.9,755.2 C405.3,755.0 406.8,754.8 408.2,754.6 C409.7,754.4 411.1,754.2 412.6,754.0 C414.0,753.8 415.4,753.6 416.9,753.4 C418.3,753.2 419.7,753.0 421.2,752.8 C422.6,752.6 424.1,752.3 425.5,752.1 C426.9,751.9 428.4,751.7 429.8,751.4 C431.2,751.2 432.7,751.0 434.1,750.7 C435.6,750.5 437.0,750.2 438.4,750.0 C439.9,749.7 441.3,749.5 442.7,749.2 C444.2,749.0 445.6,748.7 447.0,748.5 C448.5,748.2 449.9,747.9 451.3,747.6 C452.7,747.4 454.2,747.1 455.6,746.8 C457.0,746.5 458.5,746.2 459.9,745.9 C461.3,745.7 462.8,745.4 464.2,745.1 C465.6,744.7 467.0,744.4 468.5,744.1 C469.9,743.8 471.3,743.5 472.7,743.2 C474.2,742.9 475.6,742.5 477.0,742.2 C478.4,741.9 479.9,741.5 481.3,741.2 C482.7,740.9 484.1,740.5 485.6,740.2 C487.0,739.8 488.4,739.5 489.8,739.1 C491.3,738.8 492.7,738.4 494.1,738.1 C495.5,737.7 496.9,737.3 498.4,737.0 C499.8,736.6 501.2,736.2 502.6,735.9 C504.0,735.5 505.5,735.1 506.9,734.7 C508.3,734.4 509.7,734.0 511.1,733.6 C512.6,733.2 514.0,732.8 515.4,732.4 C516.8,732.0 518.2,731.6 519.6,731.3 C521.1,730.9 522.5,730.5 523.9,730.1 C525.3,729.7 526.7,729.3 528.1,728.9 C529.5,728.5 531.0,728.1 532.4,727.6 C533.8,727.2 535.2,726.8 536.6,726.4 C538.0,726.0 539.4,725.6 540.8,725.2 C542.3,724.8 543.7,724.4 545.1,724.0 C546.5,723.5 547.9,723.1 549.3,722.7 C550.7,722.3 552.1,721.9 553.5,721.5 C554.9,721.0 556.3,720.6 557.8,720.2 C559.2,719.8 560.6,719.4 562.0,718.9 C563.4,718.5 564.8,718.1 566.2,717.7 C567.6,717.2 569.0,716.8 570.4,716.4 C571.8,716.0 573.2,715.5 574.6,715.1 C576.0,714.7 577.4,714.2 578.8,713.8 C580.2,713.4 581.6,712.9 583.0,712.5 C584.4,712.0 585.8,711.6 587.2,711.1 C588.5,710.6 589.9,710.2 591.3,709.7 C592.7,709.2 594.1,708.7 595.4,708.2 C596.8,707.7 598.2,707.3 599.5,706.7 C600.9,706.2 602.3,705.7 603.6,705.2 C605.0,704.7 606.4,704.1 607.7,703.6 C609.1,703.1 610.4,702.5 611.7,701.9 C613.1,701.4 614.4,700.8 615.8,700.2 C617.1,699.6 618.4,699.0 619.7,698.4 C621.0,697.8 622.4,697.2 623.7,696.5 C625.0,695.9 626.3,695.2 627.6,694.6 C628.9,693.9 630.2,693.2 631.5,692.5 C632.7,691.8 634.0,691.1 635.3,690.4 C636.6,689.7 637.8,688.9 639.1,688.2 C640.3,687.4 641.6,686.6 642.8,685.9 C644.0,685.1 645.3,684.3 646.5,683.4 C647.7,682.6 648.9,681.8 650.1,681.0 C651.3,680.1 652.5,679.2 653.7,678.4 C654.8,677.5 656.0,676.6 657.2,675.7 C658.3,674.8 659.4,673.9 660.6,672.9 C661.7,672.0 662.8,671.0 663.9,670.1 C665.0,669.1 666.1,668.1 667.1,667.1 C668.2,666.1 669.3,665.1 670.3,664.1 C671.3,663.1 672.4,662.0 673.4,661.0 C674.4,659.9 675.4,658.9 676.3,657.8 C677.3,656.7 678.3,655.6 679.2,654.5 C680.1,653.4 681.1,652.3 682.0,651.1 C682.9,650.0 683.7,648.8 684.6,647.6 C685.5,646.5 686.3,645.3 687.1,644.1 C687.9,642.9 688.7,641.7 689.5,640.4 C690.3,639.2 691.1,638.0 691.8,636.7 C692.6,635.5 693.3,634.2 694.0,632.9 C694.7,631.7 695.4,630.4 696.1,629.1 C696.8,627.8 697.5,626.5 698.1,625.2 C698.8,623.9 699.4,622.5 700.0,621.2 C700.7,619.9 701.3,618.6 701.9,617.2 C702.5,615.9 703.1,614.5 703.7,613.2 C704.3,611.9 704.9,610.5 705.5,609.2 C706.1,607.8 706.7,606.5 707.3,605.1 C707.8,603.7 708.4,602.4 709.0,601.0 C709.5,599.7 710.1,598.3 710.6,597.0 C711.2,595.6 711.8,594.2 712.3,592.9 C712.9,591.5 713.4,590.1 713.9,588.8 C714.5,587.4 715.0,586.0 715.5,584.7 C716.1,583.3 716.6,581.9 717.1,580.6 C717.6,579.2 718.2,577.8 718.7,576.4 C719.2,575.1 719.7,573.7 720.2,572.3 C720.7,570.9 721.2,569.6 721.7,568.2 C722.2,566.8 722.7,565.4 723.2,564.0 C723.7,562.7 724.2,561.3 724.7,559.9 C725.1,558.5 725.6,557.1 726.1,555.8 C726.6,554.4 727.1,553.0 727.5,551.6 C728.0,550.2 728.5,548.8 728.9,547.4 C729.4,546.1 729.9,544.7 730.3,543.3 C730.8,541.9 731.3,540.5 731.7,539.1 C732.2,537.7 732.6,536.3 733.1,535.0 C733.5,533.6 734.0,532.2 734.4,530.8 C734.9,529.4 735.3,528.0 735.8,526.6 C736.2,525.2 736.6,523.8 737.1,522.4 C737.5,521.1 738.0,519.7 738.4,518.3 C738.8,516.9 739.3,515.5 739.7,514.1 C740.1,512.7 740.6,511.3 741.0,509.9 C741.4,508.5 741.9,507.1 742.3,505.8 C742.7,504.4 743.2,503.0 743.6,501.6 C744.1,500.2 744.5,498.8 744.9,497.4 C745.4,496.0 745.8,494.6 746.3,493.3 C746.7,491.9 747.1,490.5 747.6,489.1 C748.0,487.7 748.5,486.3 748.9,485.0 C749.4,483.6 749.8,482.2 750.3,480.8 C750.8,479.4 751.2,478.0 751.7,476.7 C752.2,475.3 752.6,473.9 753.1,472.5 C753.6,471.2 754.1,469.8 754.6,468.4 C755.1,467.0 755.6,465.7 756.1,464.3 C756.6,462.9 757.1,461.6 757.6,460.2 C758.1,458.8 758.6,457.5 759.1,456.1 C759.6,454.8 760.2,453.4 760.7,452.0 C761.3,450.7 761.8,449.3 762.4,448.0 C762.9,446.6 763.5,445.3 764.0,443.9 C764.6,442.6 765.2,441.2 765.8,439.9 C766.4,438.5 767.0,437.2 767.6,435.9 C768.2,434.5 768.8,433.2 769.4,431.8 C770.0,430.5 770.7,429.2 771.3,427.9 C772.0,426.5 772.6,425.2 773.3,423.9 C773.9,422.6 774.6,421.3 775.3,420.0 C775.9,418.6 776.6,417.3 777.3,416.0 C778.0,414.7 778.7,413.5 779.4,412.2 C780.2,410.9 780.9,409.6 781.6,408.3 C782.3,407.0 783.1,405.8 783.8,404.5 C784.6,403.2 785.3,401.9 786.1,400.7 C786.9,399.4 787.6,398.2 788.4,396.9 C789.2,395.7 790.0,394.5 790.8,393.2 C791.6,392.0 792.4,390.8 793.3,389.5 C794.1,388.3 794.9,387.1 795.8,385.9 C796.6,384.7 797.5,383.5 798.3,382.3 C799.2,381.1 800.1,380.0 800.9,378.8 C801.8,377.6 802.7,376.4 803.6,375.3 C804.5,374.1 805.4,373.0 806.4,371.8 C807.3,370.7 808.2,369.6 809.2,368.5 C810.1,367.3 811.0,366.2 812.0,365.1 C813.0,364.0 813.9,362.9 814.9,361.8 C815.9,360.7 816.9,359.7 817.9,358.6 C818.9,357.5 819.9,356.5 820.9,355.4 C822.0,354.4 823.0,353.4 824.0,352.3 C825.1,351.3 826.1,350.3 827.2,349.3 C828.2,348.3 829.3,347.3 830.4,346.3 C831.5,345.3 832.6,344.4 833.7,343.4 C834.8,342.5 835.9,341.5 837.0,340.6 C838.2,339.7 839.3,338.7 840.4,337.8 C841.6,336.9 842.7,336.0 843.9,335.1 C845.1,334.3 846.3,333.4 847.5,332.6 C848.6,331.7 849.8,330.9 851.1,330.1 C852.3,329.3 853.5,328.5 854.7,327.7 C856.0,326.9 857.2,326.2 858.5,325.5 C859.7,324.8 861.0,324.1 862.3,323.4 C863.6,322.8 864.9,322.1 866.2,321.5 C867.5,320.9 868.8,320.4 870.1,319.8 C871.5,319.3 872.8,318.8 874.2,318.3 C875.6,317.9 876.9,317.5 878.3,317.1 C879.7,316.7 881.1,316.3 882.5,316.0 C883.9,315.7 885.3,315.4 886.7,315.1 C888.2,314.8 889.6,314.6 891.0,314.4 C892.5,314.2 893.9,314.0 895.4,313.9 C896.8,313.7 898.3,313.6 899.8,313.5 C901.2,313.4 902.7,313.3 904.2,313.2 C905.6,313.1 906.2,313.0 908.6,313.1 C911.0,313.1 915.4,313.3 918.6,313.4 C921.8,313.5 925.0,313.6 928.0,313.6 C931.0,313.7 934.0,313.7 936.8,313.8 C939.7,313.8 942.4,313.8 945.1,313.8 C947.8,313.8 950.4,313.8 953.0,313.8 C955.5,313.7 958.0,313.7 960.4,313.6 C962.9,313.5 965.2,313.5 967.6,313.3 C969.9,313.2 972.2,313.1 974.4,312.9 C976.6,312.8 978.8,312.6 981.0,312.4 C983.2,312.2 985.3,311.9 987.4,311.7 C989.5,311.4 991.6,311.1 993.7,310.8 C995.8,310.5 997.3,310.3 1000.0,309.8 C1002.7,309.3 1006.7,308.7 1010.1,308.1 C1013.5,307.5 1016.9,307.0 1020.4,306.4 C1023.8,305.8 1027.3,305.3 1030.8,304.7 C1034.3,304.2 1037.8,303.6 1041.3,303.1 C1044.8,302.5 1048.3,302.0 1051.9,301.5 C1055.4,300.9 1058.9,300.4 1062.5,299.9 C1066.0,299.4 1069.5,298.9 1073.0,298.5 C1076.6,298.0 1080.1,297.5 1083.6,297.1 C1087.1,296.6 1090.6,296.2 1094.0,295.8 C1097.5,295.4 1101.0,295.0 1104.4,294.6 C1107.8,294.2 1111.2,293.9 1114.6,293.5 C1118.0,293.2 1122.9,292.8 1124.6,292.6" fill="none" stroke="#993300" stroke-width="5.3" />
<path d="M914.4,313 Q926.4,413 964.6,595" fill="none" stroke="#0000e0" stroke-width="2.7"/>
<line x1="904" y1="453.5" x2="912.9" y2="333" stroke="#ff0000" stroke-width="2.7"/>
<polygon points="913.7,322.5 917.6,333.8 908.4,333.1" fill="#ff0000"/>
<line x1="974.2" y1="464" x2="966.2" y2="576" stroke="#ff0000" stroke-width="2.7"/>
<polygon points="965.4,586 961.5,574.7 970.7,575.4" fill="#ff0000"/>
<circle cx="914.4" cy="312.7" r="10.5" fill="#000"/>
<circle cx="974.2" cy="464" r="10.5" fill="#000"/>
<circle cx="964.6" cy="595" r="10.5" fill="#000"/>
<text x="621.3" y="71.6" font-size="36" font-weight="bold" text-anchor="middle">h = H + N</text>
<text class="t" transform="translate(59.6,135.8) scale(1.027,1)" font-size="27.7">Ellipsoidal height (h): Distance along the ellipsoidal normal (P<tspan dy="7" font-size="20.5">0</tspan><tspan dy="-7"> to P)</tspan></text>
<text class="t" transform="translate(59.6,186.0) scale(1.027,1)" font-size="27.7">Geoid height (N): Distance along the ellipsoidal normal (Q<tspan dy="7" font-size="20.5">0</tspan><tspan dy="-7"> to Q)</tspan></text>
<text class="t" transform="translate(59.6,236.3) scale(1.027,1)" font-size="27.7">Orthometric height (H): Distance along plumb line (Q to P)</text>
<text class="t" transform="translate(59.6,286.8) scale(1.027,1)" font-size="27.7">Equipotential Surfaces: W<tspan dy="7" font-size="20.5">i</tspan></text>
<text class="t" transform="translate(1140.6,337)" font-size="27.7" font-style="italic">W<tspan dy="7.1" font-size="21">3</tspan></text>
<text class="t" transform="translate(1140.6,428)" font-size="27.7" font-style="italic">W<tspan dy="7.1" font-size="21">2</tspan></text>
<text class="t" transform="translate(1140.6,518.9)" font-size="27.7" font-style="italic">W<tspan dy="7.1" font-size="21">1</tspan></text>
<text class="t" transform="translate(1140.6,598.9)" font-size="27.7" font-style="italic">W<tspan dy="7.1" font-size="21">0</tspan></text>
<text class="t" transform="translate(1140.6,690)" font-size="27.7" font-style="italic">W<tspan dy="7.1" font-size="21">-1</tspan></text>
<text class="t" transform="translate(1140.6,771)" font-size="27.7" font-style="italic">W<tspan dy="7.1" font-size="21">-2</tspan></text>
<text class="t" transform="translate(886.8,299.9)" font-size="27.7">P</text>
<text class="t" transform="translate(866.7,477)" font-size="27.7">P<tspan dy="7" font-size="20.5">0</tspan></text>
<text class="t" transform="translate(997.3,458)" font-size="27.7">Q<tspan dy="7" font-size="20.5">0</tspan></text>
<text class="t" transform="translate(977.3,630.8) scale(1.1,1)" font-size="28">Q</text>
<text transform="translate(887.6,397.6)" font-size="27.7" fill="#ff0000" font-style="italic">h</text>
<text transform="translate(978,537.6) rotate(5)" font-size="26" fill="#ff0000">N</text>
<text transform="translate(940.5,422.3) rotate(-9) scale(0.9,1)" font-size="31.3" fill="#333399">H</text>
<text transform="translate(110.3,739.8)" font-size="27.7" stroke="#c4ffff" stroke-width="0.45">Ocean</text>
<text transform="translate(123,504.6) rotate(-6.1) scale(1.02,1)" font-size="27.2" fill="#008000">Ellipsoid</text>
<text class="t" transform="translate(727.6,667.8) rotate(-6.6) scale(1.02,1)" font-size="31">Geoid</text>
<text transform="translate(716.5,521.3) rotate(-70.7)" font-size="26.5" fill="#993300">Earth<tspan dx="1.7">’</tspan><tspan dx="1.2">s surface</tspan></text>
<path id="msl" d="M206.5,603.5 C240,621 290,645 322,657.5 C335,662.5 345,665 352,663.5 C370,660 390,655.5 414,652" fill="none" stroke="none"/>
<text font-size="26.2" fill="#3690ec" letter-spacing="1" xml:space="preserve"><textPath href="#msl">Mean Sea  <tspan dx="3" letter-spacing="1.7">Level</tspan></textPath></text>
</svg></body></html>
